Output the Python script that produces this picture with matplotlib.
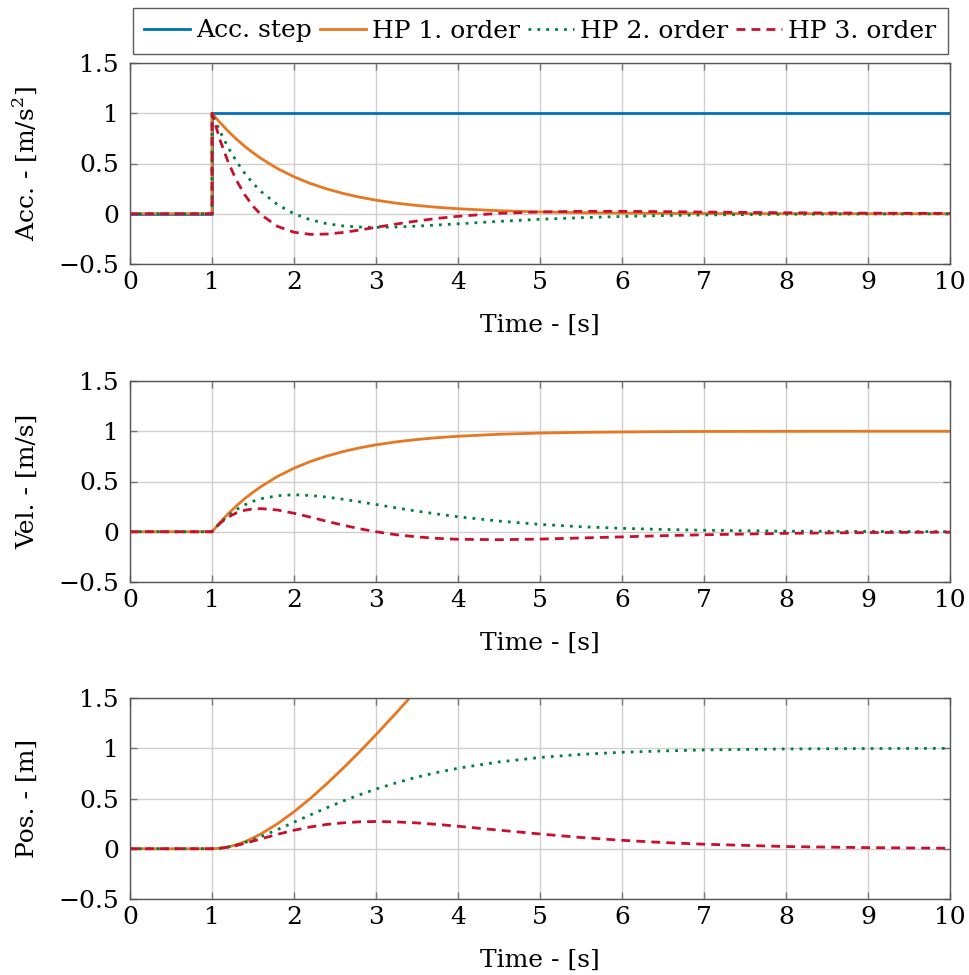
import matplotlib
matplotlib.use("Agg")
import matplotlib.pyplot as plt
import numpy as np

# time samples (s); step occurs at t = 1 (duplicated point for the jump)
time = [0, 1, 1, 1.1, 1.2, 1.3, 1.4, 1.5, 1.6, 1.8, 2.0, 2.2, 2.4, 2.6, 2.8, 3.0,
        3.25, 3.5, 3.75, 4.0, 4.5, 5.0, 5.5, 6.0, 6.5, 7.0, 8.0, 9.0, 10.0]

# acceleration
acc_step = [0, 0, 1, 1, 1, 1, 1, 1, 1, 1, 1, 1, 1, 1, 1, 1,
            1, 1, 1, 1, 1, 1, 1, 1, 1, 1, 1, 1, 1]
acc_hp1 = [0, 0, 1, 0.905, 0.819, 0.741, 0.670, 0.607, 0.549, 0.449, 0.368, 0.301, 0.247, 0.202, 0.165, 0.135,
           0.105, 0.082, 0.064, 0.050, 0.030, 0.018, 0.011, 0.007, 0.004, 0.002, 0.001, 0.000, 0.000]
acc_hp2 = [0, 0, 1, 0.814, 0.655, 0.519, 0.402, 0.303, 0.220, 0.090, 0.000, -0.060, -0.099, -0.121, -0.132, -0.135,
           -0.132, -0.123, -0.112, -0.100, -0.076, -0.055, -0.039, -0.027, -0.018, -0.012, -0.005, -0.002, -0.001]
acc_hp3 = [0, 0, 1, 0.728, 0.508, 0.330, 0.188, 0.076, -0.011, -0.126, -0.184, -0.205, -0.202, -0.186, -0.162, -0.135,
           -0.102, -0.072, -0.046, -0.025, 0.004, 0.018, 0.024, 0.024, 0.021, 0.017, 0.010, 0.006, 0.003]

# velocity
vel_hp1 = [0, 0, 0, 0.095, 0.181, 0.259, 0.330, 0.393, 0.451, 0.551, 0.632, 0.699, 0.753, 0.798, 0.835, 0.865,
           0.895, 0.918, 0.936, 0.950, 0.970, 0.982, 0.989, 0.993, 0.996, 0.998, 0.999, 1.000, 1.000]
vel_hp2 = [0, 0, 0, 0.090, 0.164, 0.222, 0.268, 0.303, 0.329, 0.359, 0.368, 0.361, 0.345, 0.323, 0.298, 0.271,
           0.237, 0.205, 0.176, 0.149, 0.106, 0.073, 0.050, 0.034, 0.023, 0.015, 0.006, 0.003, 0.001]
vel_hp3 = [0, 0, 0, 0.086, 0.147, 0.189, 0.214, 0.227, 0.230, 0.216, 0.184, 0.145, 0.104, 0.065, 0.030, 0.000,
           -0.030, -0.051, -0.066, -0.075, -0.079, -0.073, -0.062, -0.051, -0.039, -0.030, -0.016, -0.008, -0.004]

# position
pos_hp1 = [0, 0, 0, 0.005, 0.019, 0.041, 0.070, 0.107, 0.149, 0.249, 0.368, 0.501, 0.647, 0.802, 0.965, 1.135,
           1.355, 1.582, 1.814, 2.050, 2.530, 3.018, 3.511, 4.007, 4.504, 5.003, 6.001, 7.000, 8.000]
pos_hp2 = [0, 0, 0, 0.005, 0.018, 0.037, 0.062, 0.090, 0.122, 0.191, 0.264, 0.337, 0.408, 0.475, 0.537, 0.594,
           0.657, 0.713, 0.760, 0.801, 0.864, 0.908, 0.939, 0.960, 0.973, 0.983, 0.993, 0.997, 0.999]
pos_hp3 = [0, 0, 0, 0.005, 0.016, 0.033, 0.054, 0.076, 0.099, 0.144, 0.184, 0.217, 0.242, 0.258, 0.268, 0.271,
           0.267, 0.257, 0.242, 0.224, 0.185, 0.147, 0.112, 0.084, 0.062, 0.045, 0.022, 0.011, 0.005]

labels = ["Acc. step", "HP 1. order", "HP 2. order", "HP 3. order"]
colors = ["#0072BD", "#E87722", "#007F3A", "#C8102E"]
styles = ["-", "-", (0, (1, 2.2)), (0, (3.2, 2.2))]

ylabels = [r"Acc. - [m/s$^2$]", "Vel. - [m/s]", "Pos. - [m]"]
xticks = list(range(0, 11))
yticks = [-0.5, 0, 0.5, 1, 1.5]
ytick_labels = ["\u22120.5", "0", "0.5", "1", "1.5"]

FS = 18
plt.rcParams["font.family"] = ["DejaVu Serif"]
plt.rcParams["mathtext.fontset"] = "custom"
plt.rcParams["mathtext.rm"] = "DejaVu Serif"
plt.rcParams["font.size"] = FS

fig = plt.figure(figsize=(9.7, 9.75), dpi=100)
left, width, height = 130 / 970, 820 / 970, 201 / 975
bottoms = [1 - 264 / 975, 1 - 582 / 975, 1 - 899 / 975]
axes = [fig.add_axes([left, b, width, height]) for b in bottoms]

panels = [
    [(acc_step, 0), (acc_hp1, 1), (acc_hp2, 2), (acc_hp3, 3)],
    [(vel_hp1, 1), (vel_hp2, 2), (vel_hp3, 3)],
    [(pos_hp1, 1), (pos_hp2, 2), (pos_hp3, 3)],
]

handles = []
for ax, panel, ylab in zip(axes, panels, ylabels):
    for series, k in panel:
        ln, = ax.plot(time, series, color=colors[k], linestyle=styles[k], lw=2.0)
        if ax is axes[0]:
            handles.append(ln)
    ax.set_xlim(0, 10)
    ax.set_ylim(-0.5, 1.5)
    ax.set_xticks(xticks)
    ax.set_yticks(yticks)
    ax.set_yticklabels(ytick_labels)
    ax.grid(True, color="#cfcfcf", lw=1.0)
    ax.set_axisbelow(True)
    ax.tick_params(direction="in", length=5, width=1, color="#777777",
                   top=True, right=True, labelsize=FS)
    ax.tick_params(axis="y", pad=8)
    ax.tick_params(axis="x", pad=5)
    for s in ax.spines.values():
        s.set_color("#555555")
        s.set_linewidth(1.0)
    ax.set_xlabel("Time - [s]", fontsize=FS, labelpad=14)
    ax.set_ylabel(ylab, fontsize=FS, labelpad=14)

leg = fig.legend(handles, labels, loc="center", bbox_to_anchor=(540 / 970, 1 - 31 / 975),
                 ncol=4, frameon=True, fancybox=False, edgecolor="#333333",
                 handlelength=1.85, handletextpad=0.25, columnspacing=0.3,
                 borderpad=0.45, borderaxespad=0.0, fontsize=FS)
leg.get_frame().set_linewidth(1.0)

fig.savefig("out.png", dpi=100)
